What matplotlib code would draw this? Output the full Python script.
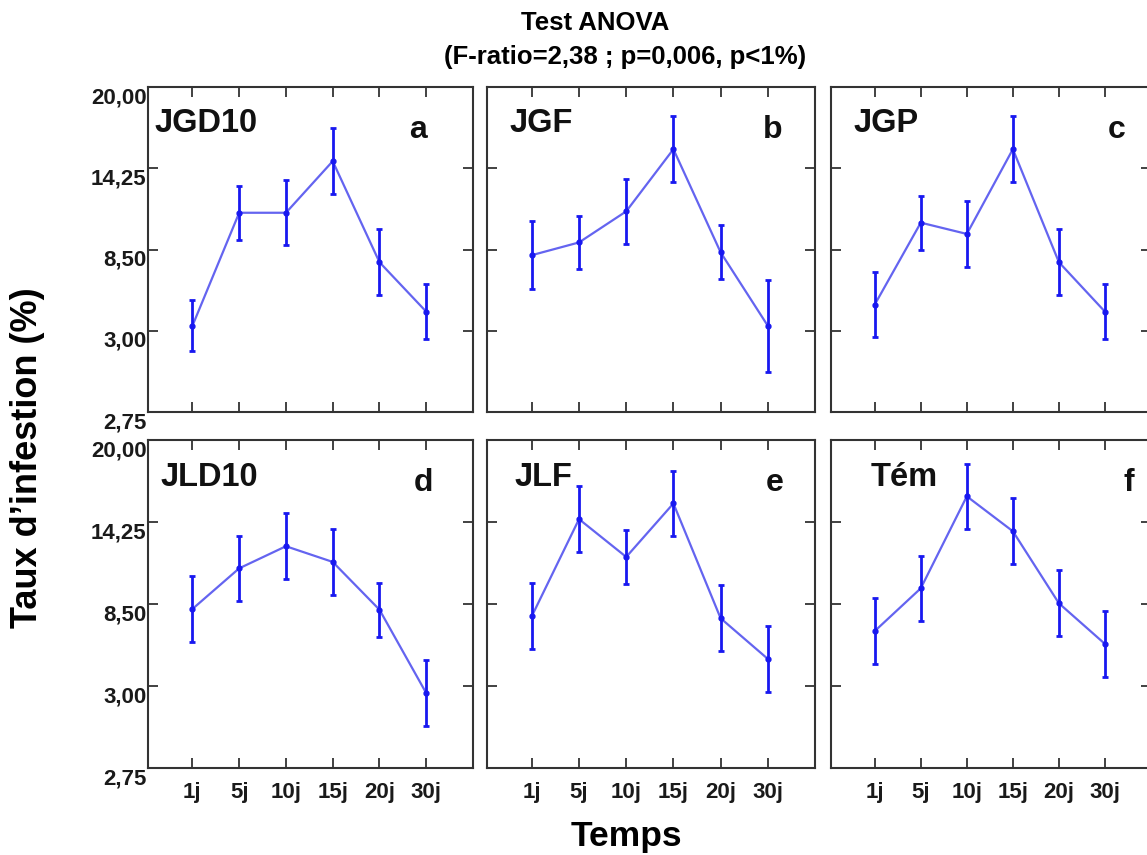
import numpy as np
import matplotlib
matplotlib.use("Agg")
import matplotlib.pyplot as plt

plt.rcParams['font.family'] = ['Liberation Sans', 'DejaVu Sans']
plt.rcParams['font.weight'] = 'bold'

temps = ['1j', '5j', '10j', '15j', '20j', '30j']
ytick_vals = [20.0, 14.25, 8.5, 2.75, -3.0]
ytick_labels = ['20,00', '14,25', '8,50', '3,00', '2,75']

noms = ['JGD10', 'JGF', 'JGP', 'JLD10', 'JLF', 'Tém']
lettres = ['a', 'b', 'c', 'd', 'e', 'f']

jgd10 = [3.1, 11.1, 11.1, 14.75, 7.6, 4.1]
jgd10_err = [1.8, 1.9, 2.3, 2.35, 2.35, 1.95]
jgf = [8.1, 9.0, 11.2, 15.6, 8.3, 3.1]
jgf_err = [2.4, 1.9, 2.3, 2.35, 1.9, 3.25]
jgp = [4.6, 10.4, 9.6, 15.6, 7.6, 4.1]
jgp_err = [2.3, 1.9, 2.35, 2.35, 2.35, 1.95]
jld10 = [8.15, 11.0, 12.55, 11.45, 8.1, 2.25]
jld10_err = [2.3, 2.3, 2.3, 2.3, 1.9, 2.3]
jlf = [7.65, 14.45, 11.8, 15.55, 7.5, 4.65]
jlf_err = [2.3, 2.3, 1.9, 2.3, 2.3, 2.3]
tem = [6.6, 9.6, 16.05, 13.6, 8.55, 5.7]
tem_err = [2.3, 2.3, 2.3, 2.3, 2.3, 2.3]

series = [jgd10, jgf, jgp, jld10, jlf, tem]
erreurs = [jgd10_err, jgf_err, jgp_err, jld10_err, jlf_err, tem_err]

W, H = 1147, 855
fig = plt.figure(figsize=(W / 100, H / 100), dpi=100)

# positions des panneaux en pixels (gauche, largeur) / (haut, hauteur)
cols = [(148, 325), (487, 328), (831, 320)]
rows = [(87, 325), (440, 328)]
# position des noms et des lettres (fraction d'axes)
nom_x = [0.02, 0.07, 0.07, 0.037, 0.085, 0.125]
lettre_x = [0.83, 0.87, 0.894, 0.846, 0.878, 0.93]

x = np.arange(1, len(temps) + 1)

for i in range(6):
    r, c = divmod(i, 3)
    left, w = cols[c]
    top, h = rows[r]
    ax = fig.add_axes([left / W, 1 - (top + h) / H, w / W, h / H])

    ax.plot(x, series[i], color='#6464f0', lw=1.6, zorder=2)
    ax.errorbar(x, series[i], yerr=erreurs[i], fmt='o', ms=3.5,
                color='#1818f0', ecolor='#1818f0', elinewidth=2.0,
                capsize=2.3, capthick=2.0, zorder=3)

    ax.set_xlim(0.05, 7.0)
    ax.set_ylim(-3.0, 20.0)
    ax.set_xticks(x)
    ax.set_yticks(ytick_vals)

    for s in ax.spines.values():
        s.set_color('#333333')
        s.set_linewidth(1.5)

    ax.tick_params(direction='in', length=7, width=1.3, color='#333333',
                   top=True, right=True)

    if c == 0:
        ax.set_yticklabels(ytick_labels, fontsize=16, fontweight='bold',
                           color='#1a1a1a', va='top')
        ax.tick_params(axis='y', pad=1)
    else:
        ax.set_yticklabels([])
    if r == 1:
        ax.set_xticklabels(temps, fontsize=16, fontweight='bold',
                           color='#1a1a1a')
        ax.tick_params(axis='x', pad=10)
    else:
        ax.set_xticklabels([])

    ax.text(nom_x[i], 0.887, noms[i], transform=ax.transAxes, fontsize=23.5,
            fontweight='bold', va='center', ha='left', color='#111111')
    ax.text(lettre_x[i], 0.868, lettres[i], transform=ax.transAxes,
            fontsize=23, fontweight='bold', va='center', ha='center',
            color='#111111')

fig.text(595 / W, 1 - 23 / H, 'Test ANOVA', fontsize=18.5, fontweight='bold',
         ha='center', va='center')
fig.text(625 / W, 1 - 57 / H, '(F-ratio=2,38 ; p=0,006, p<1%)', fontsize=18.5,
         fontweight='bold', ha='center', va='center')
fig.text(28 / W, 1 - 458 / H, 'Taux d\u2019infestion (%)', fontsize=26,
         fontweight='bold', rotation=90, ha='center', va='center')
fig.text(626 / W, 1 - 836 / H, 'Temps', fontsize=25.5, fontweight='bold',
         ha='center', va='center')

fig.savefig('out.png', dpi=100)
